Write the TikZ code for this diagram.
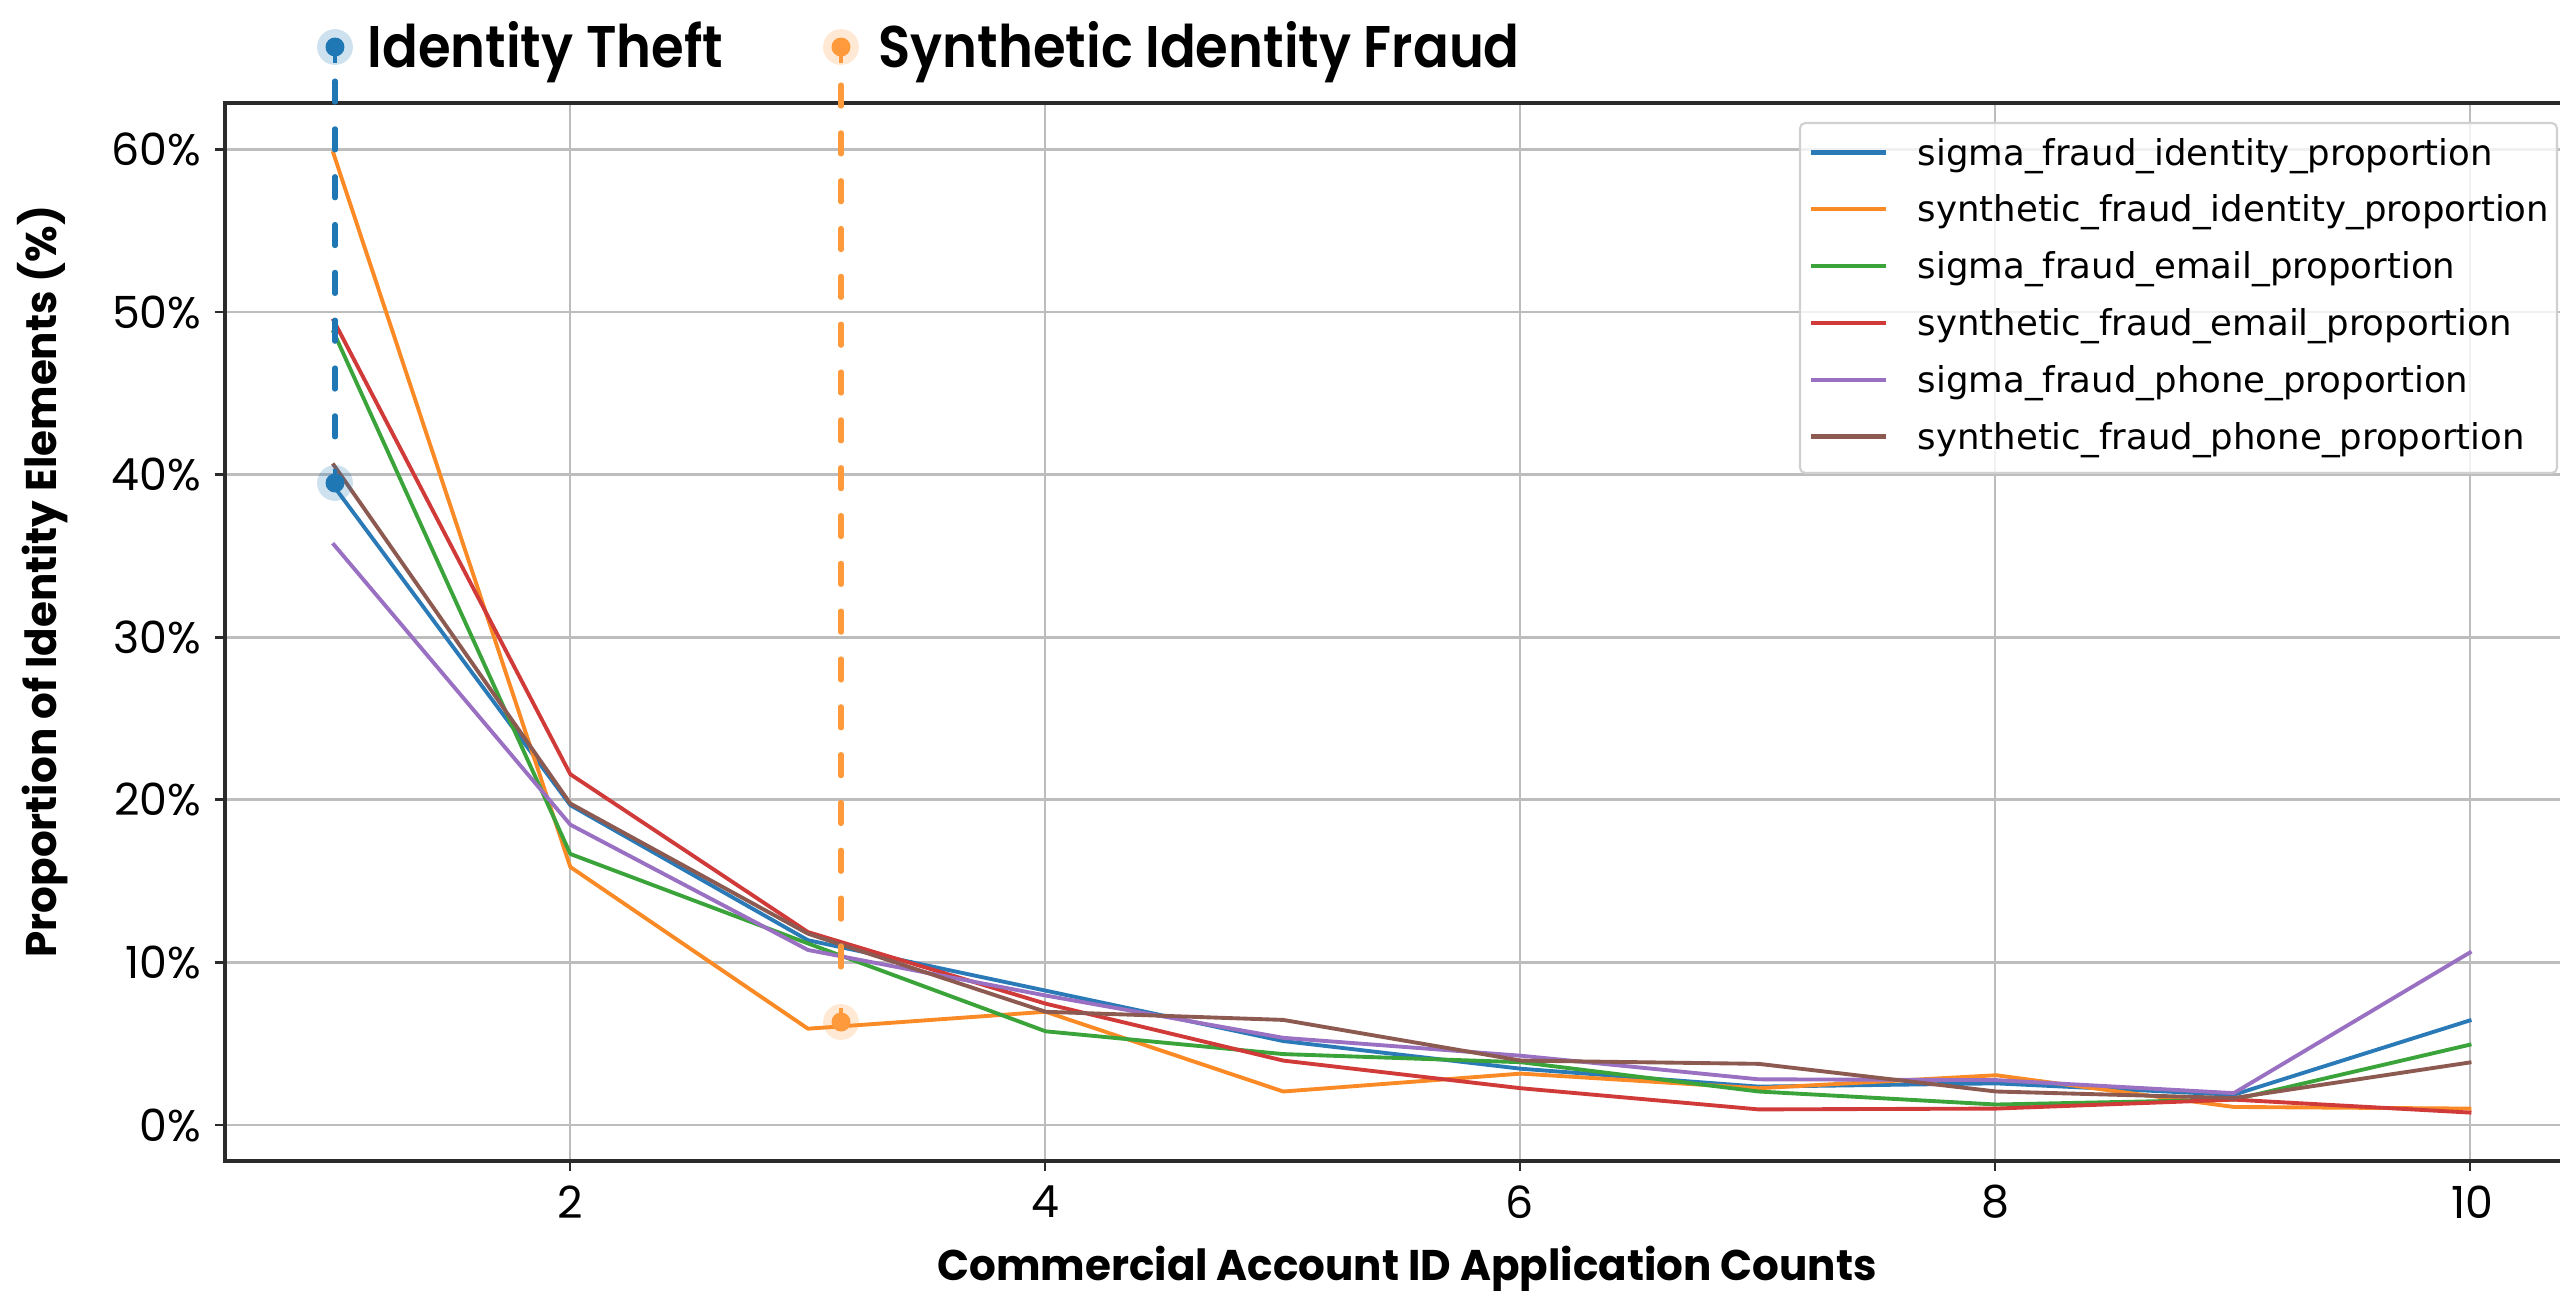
\documentclass[tikz,border=0pt]{standalone}
\usepackage{fontspec}
\setmainfont{Poppins}
\newfontfamily\legfont{DejaVu Sans}
\IfFontExistsTF{Poppins SemiBold}{\newfontfamily\popmed{Poppins SemiBold}[FakeStretch=0.9]}{\newfontfamily\popmed{Poppins}[FakeStretch=0.9, FakeBold=1.4]}
\newfontfamily\axfont{Poppins}[FakeStretch=0.98]
\definecolor{cblue}{HTML}{2A7AB8}
\definecolor{corange}{HTML}{F98A25}
\definecolor{cgreen}{HTML}{3AA33A}
\definecolor{cred}{HTML}{D03A38}
\definecolor{cpurple}{HTML}{9A70C2}
\definecolor{cbrown}{HTML}{8C5A50}
\definecolor{annblue}{HTML}{1F77B4}
\definecolor{annorange}{HTML}{FF9A3C}
\definecolor{gridc}{HTML}{BDBDBD}
\definecolor{spinec}{HTML}{2B2B2B}
\definecolor{legborder}{HTML}{D0D0D0}
\tikzset{
  gridline/.style={draw=gridc, line width=0.75pt},
  spine/.style={draw=spinec, line width=0.9pt},
  tickmark/.style={draw=spinec, line width=0.8pt},
  ticklab/.style={inner sep=0pt, font=\fontsize{12.6pt}{14pt}\selectfont},
  axlab/.style={inner sep=0pt, font=\fontsize{12.2pt}{14pt}\axfont\bfseries},
  series/.style={line width=1.1pt, line join=round},
  legline/.style={line width=1.2pt},
  legtext/.style={inner sep=0pt, anchor=base west, font=\fontsize{10.1pt}{12pt}\legfont},
  legbox/.style={draw=legborder, line width=0.6pt, fill=white, fill opacity=0.8, rounded corners=1.5pt},
  annline/.style={line width=1.45pt, dash pattern=on 6pt off 7.6pt, line cap=round},
  halo/.style={circle, inner sep=0pt, minimum size=10.2pt, fill opacity=0.22},
  dot/.style={circle, inner sep=0pt, minimum size=5.4pt},
  title/.style={inner sep=0pt, anchor=base west, font=\fontsize{16.7pt}{19pt}\popmed},
}
\begin{document}
\begin{tikzpicture}[x=0.01cm, y=-0.01cm]
\useasboundingbox (0,0) rectangle (2560,1290);
% grid
\foreach \yy in {1125,962.4,799.8,637.2,474.6,312,149.4}
  \draw[gridline] (225,\yy) -- (2560,\yy);
\foreach \xx in {570,1045,1520,1995,2470}
  \draw[gridline] (\xx,103) -- (\xx,1161);
% data
\begin{scope}[shift={(0.95cm,-11.25cm)}, x=2.375cm, y=0.1626cm]
\draw[series, cblue] plot coordinates {(1,39.4) (2,19.7) (3,11.4) (4,8.3) (5,5.2) (6,3.5) (7,2.4) (8,2.6) (9,1.9) (10,6.5)};
\draw[series, corange] plot coordinates {(1,59.9) (2,15.9) (3,5.96) (4,7.0) (5,2.1) (6,3.2) (7,2.3) (8,3.1) (9,1.15) (10,1.05)};
\draw[series, cgreen] plot coordinates {(1,48.9) (2,16.7) (3,11.2) (4,5.8) (5,4.4) (6,3.9) (7,2.1) (8,1.3) (9,1.6) (10,5.0)};
\draw[series, cred] plot coordinates {(1,49.6) (2,21.6) (3,11.9) (4,7.5) (5,4.0) (6,2.3) (7,1.0) (8,1.05) (9,1.6) (10,0.8)};
\draw[series, cpurple] plot coordinates {(1,35.8) (2,18.5) (3,10.8) (4,8.0) (5,5.4) (6,4.3) (7,2.85) (8,2.8) (9,2.0) (10,10.7)};
\draw[series, cbrown] plot coordinates {(1,40.7) (2,19.8) (3,11.8) (4,7.0) (5,6.5) (6,4.0) (7,3.8) (8,2.1) (9,1.7) (10,3.9)};
\end{scope}
% spines
\draw[spine] (2560,103) -- (225,103) -- (225,1161) -- (2560,1161);
% ticks
\foreach \yy in {1125,962.4,799.8,637.2,474.6,312,149.4}
  \draw[tickmark] (215,\yy) -- (225,\yy);
\foreach \xx in {570,1045,1520,1995,2470}
  \draw[tickmark] (\xx,1161) -- (\xx,1171);
% tick labels
\node[ticklab, anchor=east] (y0)  at (202,1125) {0\%};
\node[ticklab, anchor=east] (y10) at (202,962.4) {10\%};
\node[ticklab, anchor=east] (y20) at (202,799.8) {20\%};
\node[ticklab, anchor=east] (y30) at (202,637.2) {30\%};
\node[ticklab, anchor=east] (y40) at (202,474.6) {40\%};
\node[ticklab, anchor=east] (y50) at (202,312) {50\%};
\node[ticklab, anchor=east] (y60) at (202,149.4) {60\%};
\node[ticklab] (x2)  at (570,1202) {2};
\node[ticklab] (x4)  at (1045,1202) {4};
\node[ticklab] (x6)  at (1520,1202) {6};
\node[ticklab] (x8)  at (1995,1202) {8};
\node[ticklab] (x10) at (2472,1202) {10};
% axis labels
\node[axlab, anchor=base] (xlab) at (1407,1280) {Commercial Account ID Application Counts};
\node[axlab, anchor=base, rotate=90] (ylab) at (57,581.5) {Proportion of Identity Elements (\%)};
% legend
\draw[legbox] (1800,123) rectangle (2557,473);
\foreach \c/\t [count=\i from 0] in {cblue/sigma\_fraud\_identity\_proportion,
  corange/synthetic\_fraud\_identity\_proportion,
  cgreen/sigma\_fraud\_email\_proportion,
  cred/synthetic\_fraud\_email\_proportion,
  cpurple/sigma\_fraud\_phone\_proportion,
  cbrown/synthetic\_fraud\_phone\_proportion}{
  \pgfmathsetmacro{\by}{165+56.8*\i}
  \draw[legline, \c] (1811,\by-12.5) -- (1886,\by-12.5);
  \node[legtext] (leg\i) at (1917,\by) {\t};
}
% annotations
\node[halo, fill=annblue] (bhalo) at (335,483) {};
\node[dot, fill=annblue] (bdot) at (335,483) {};
\node[halo, fill=annorange] (ohalo) at (841,1022) {};
\node[dot, fill=annorange] (odot) at (841,1022) {};
\node[halo, fill=annblue] (bthalo) at (335,47) {};
\node[dot, fill=annblue] (btdot) at (335,47) {};
\node[halo, fill=annorange] (othalo) at (841,47) {};
\node[dot, fill=annorange] (otdot) at (841,47) {};
\coordinate (bstart) at (335,81);
\coordinate (bend) at (335,446);
\coordinate (ostart) at (841,85);
\coordinate (oend) at (841,983);
\draw[annline, annblue] (bstart) -- (bend);
\draw[annline, annorange] (ostart) -- (oend);
\draw[annblue, line width=1.1pt] (btdot.center) -- ([yshift=-4.5pt]btdot.center);
\draw[annorange, line width=1.1pt] (otdot.center) -- ([yshift=-4.5pt]otdot.center);
\draw[annblue, line width=1.1pt] (bdot.center) -- ([yshift=4pt]bdot.center);
\draw[annorange, line width=1.1pt] (odot.center) -- ([yshift=4pt]odot.center);
\node[title] (t1) at (367,67) {Identity Theft};
\node[title] (t2) at (878,67) {Synthetic Identity Fraud};
\end{tikzpicture}
\end{document}
